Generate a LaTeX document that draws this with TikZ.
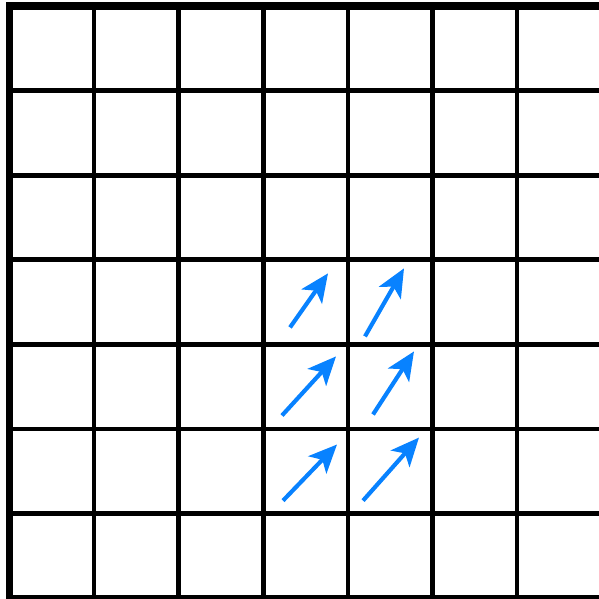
\documentclass[tikz,border=0pt]{standalone}
\usepackage{tikz}
\usetikzlibrary{arrows.meta}
\definecolor{flowblue}{RGB}{8, 130, 255}

\begin{document}
\begin{tikzpicture}[
    x=1cm, y=1cm,
    gridline/.style={draw=black, line width=1.6pt},
    border/.style={draw=black, line width=2.4pt},
    flow/.style={
        -{Stealth[length=9.5pt, width=8.4pt, inset=2.4pt]}, line width=1.4pt, draw=flowblue
    }
]
\useasboundingbox (-0.112,0.071) rectangle (6.968,-7.009);

% Grid
\foreach \i in {1,...,6} {
    \draw[gridline] (\i,0) -- (\i,-7);
    \draw[gridline] (0,-\i) -- (7,-\i);
}
\draw[border] (7,0) -- (0,0) -- (0,-7) -- (7,-7);

% Vectors
\coordinate (a1s) at (3.316,-3.799); \coordinate (a1e) at (3.765,-3.160);
\coordinate (a2s) at (4.202,-3.905); \coordinate (a2e) at (4.663,-3.101);
\coordinate (a3s) at (3.221,-4.840); \coordinate (a3e) at (3.859,-4.142);
\coordinate (a4s) at (4.297,-4.828); \coordinate (a4e) at (4.781,-4.083);
\coordinate (a5s) at (3.233,-5.846); \coordinate (a5e) at (3.871,-5.183);
\coordinate (a6s) at (4.179,-5.846); \coordinate (a6e) at (4.840,-5.101);

\foreach \k in {1,...,6}
    \draw[flow] (a\k s) -- (a\k e);

\end{tikzpicture}
\end{document}
